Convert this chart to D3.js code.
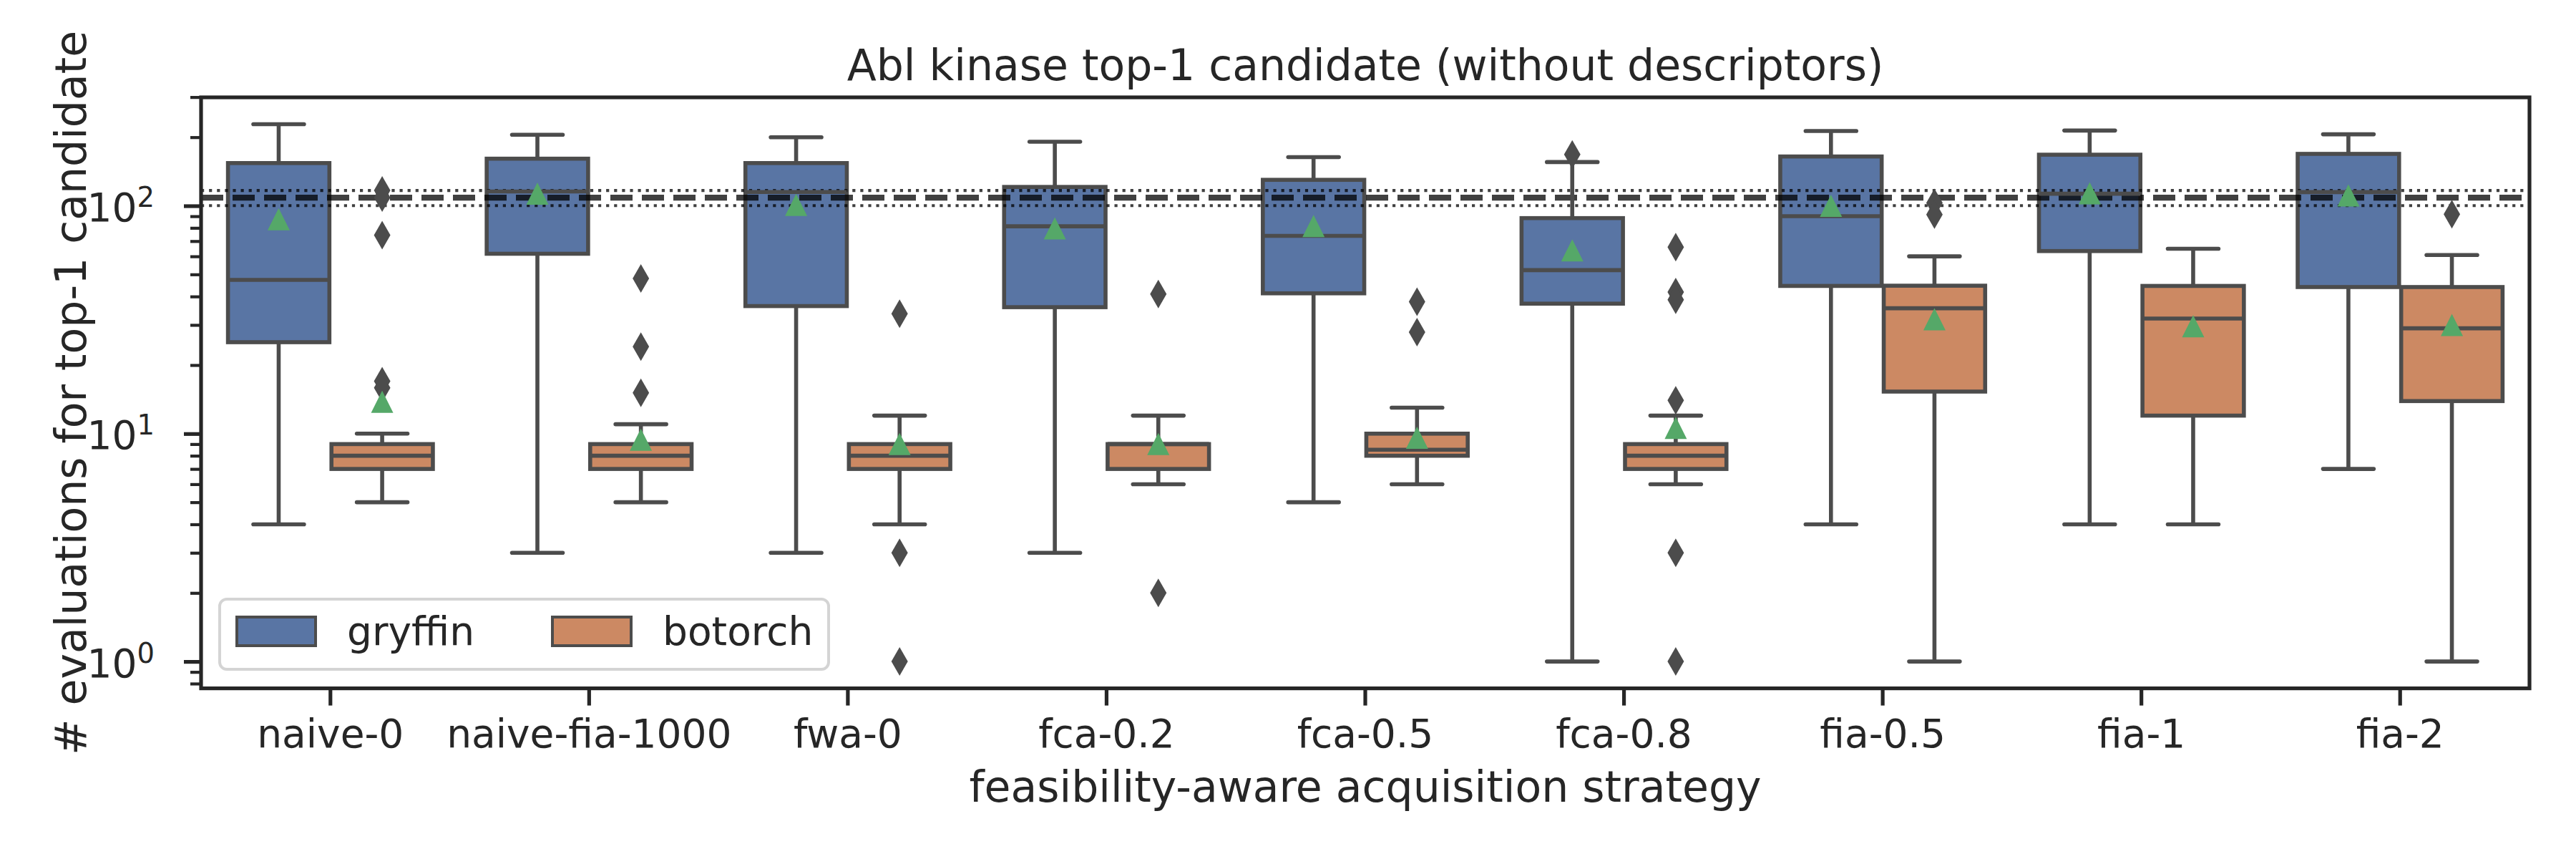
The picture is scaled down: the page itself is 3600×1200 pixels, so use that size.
<!DOCTYPE html>
<html>
<head>
<script src="https://cdn.jsdelivr.net/npm/d3@7"></script>
<style>
    body { margin: 0; background: #fff; }
    text { font-family: "DejaVu Sans", sans-serif; fill: #262626; }
</style>
</head>
<body>
<svg width="3600" height="1200"></svg>
<script>
    // Categories and hue groups
    const categories = ["naive-0", "naive-fia-1000", "fwa-0", "fca-0.2", "fca-0.5", "fca-0.8", "fia-0.5", "fia-1", "fia-2"];
    const hues = ["gryffin", "botorch"];

    // gryffin box stats (lower whisker, q1, median, q3, upper whisker, mean, fliers)
    const gryffinLow    = [4, 3, 3, 3, 5, 1, 4, 4, 7];
    const gryffinQ1     = [25.2, 61.6, 36.3, 35.9, 41.3, 37.2, 44.5, 63.3, 44];
    const gryffinMedian = [47.3, 115.6, 115, 81.3, 73.8, 52.2, 90, 113, 114.8];
    const gryffinQ3     = [154, 161, 154, 121, 130, 88.3, 164.6, 167.6, 169];
    const gryffinHigh   = [228, 205, 200, 191, 163.6, 155.6, 213, 214, 206];
    const gryffinMean   = [87.3, 113, 101, 79.6, 81.5, 63.7, 100, 113.5, 111];
    const gryffinFliers = [[], [], [], [], [], [168], [], [], []];

    // botorch box stats
    const botorchLow    = [5, 5, 4, 6, 6, 6, 1, 4, 1];
    const botorchQ1     = [7, 7, 7, 7, 8, 7, 15.3, 12, 13.9];
    const botorchMedian = [8, 8, 8, 9, 8.5, 8, 35.5, 32, 29];
    const botorchQ3     = [9, 9, 9, 9, 10, 9, 44.6, 44.5, 44];
    const botorchHigh   = [10, 11, 12, 12, 13, 12, 60, 64.8, 60.8];
    const botorchMean   = [13.8, 9.4, 9.0, 9.0, 9.6, 10.6, 31.8, 29.6, 30];
    const botorchFliers = [
        [116.8, 108.6, 74.3, 17, 15.9],
        [48, 24.1, 15.1],
        [33.6, 3, 1],
        [41, 2],
        [37.9, 27.9],
        [65.9, 41.8, 38.7, 14, 3, 1],
        [102.9, 91.5],
        [],
        [91.8]
    ];

    // Reference lines (mean and spread)
    const refMean = 108.5;
    const refBand = [100.2, 116.7];

    // Axis ticks
    const yMajor = [1, 10, 100];
    const yMinor = [0.8, 0.9, 2, 3, 4, 5, 6, 7, 8, 9, 20, 30, 40, 50, 60, 70, 80, 90, 200, 300];

    const colors = {gryffin: "#5975a4", botorch: "#cc8963"};
    const lineColor = "#4c4c4c";

    // Build box records
    const boxes = [];
    categories.forEach(function(c, i) {
        boxes.push({cat: c, hue: "gryffin", low: gryffinLow[i], q1: gryffinQ1[i], med: gryffinMedian[i],
            q3: gryffinQ3[i], high: gryffinHigh[i], mean: gryffinMean[i], fliers: gryffinFliers[i]});
        boxes.push({cat: c, hue: "botorch", low: botorchLow[i], q1: botorchQ1[i], med: botorchMedian[i],
            q3: botorchQ3[i], high: botorchHigh[i], mean: botorchMean[i], fliers: botorchFliers[i]});
    });

    // Plot area
    const plotLeft = 281, plotRight = 3535, plotTop = 136, plotBottom = 961.6;

    const x = d3.scaleBand().domain(categories).range([plotLeft, plotRight]);
    const xHue = d3.scaleBand().domain(hues).range([-0.4 * x.bandwidth(), 0.4 * x.bandwidth()]);
    const y = d3.scaleLog().domain([0.7625, 299.2]).range([plotBottom, plotTop]);

    const boxW = xHue.bandwidth() * 0.98;
    const cx = d => x(d.cat) + x.bandwidth() / 2 + xHue(d.hue) + xHue.bandwidth() / 2;

    const svg = d3.select("svg");

    svg.append("defs").append("clipPath").attr("id", "plot-clip")
        .append("rect")
        .attr("x", plotLeft).attr("y", plotTop)
        .attr("width", plotRight - plotLeft).attr("height", plotBottom - plotTop);

    // Boxes
    svg.append("g").selectAll("rect")
        .data(boxes)
        .enter().append("rect")
        .attr("x", d => cx(d) - boxW / 2)
        .attr("y", d => y(d.q3))
        .attr("width", boxW)
        .attr("height", d => y(d.q1) - y(d.q3))
        .attr("fill", d => colors[d.hue])
        .attr("stroke", lineColor)
        .attr("stroke-width", 5.6);

    // Reference lines
    const refG = svg.append("g").attr("clip-path", "url(#plot-clip)");
    refG.append("line")
        .attr("x1", plotLeft).attr("x2", plotRight)
        .attr("y1", y(refMean)).attr("y2", y(refMean))
        .attr("stroke", "#000").attr("stroke-opacity", 0.75)
        .attr("stroke-width", 8.3)
        .attr("stroke-dasharray", "31,13");
    refG.selectAll(".band")
        .data(refBand)
        .enter().append("line")
        .attr("x1", plotLeft).attr("x2", plotRight)
        .attr("y1", d => y(d)).attr("y2", d => y(d))
        .attr("stroke", "#000").attr("stroke-opacity", 0.75)
        .attr("stroke-width", 4.2)
        .attr("stroke-dasharray", "4.2,6.9");

    const marks = svg.append("g");

    // Whiskers
    marks.selectAll(".wlow")
        .data(boxes)
        .enter().append("line")
        .attr("x1", cx).attr("x2", cx)
        .attr("y1", d => y(d.q1)).attr("y2", d => y(d.low))
        .attr("stroke", lineColor).attr("stroke-width", 5.6);
    marks.selectAll(".whigh")
        .data(boxes)
        .enter().append("line")
        .attr("x1", cx).attr("x2", cx)
        .attr("y1", d => y(d.q3)).attr("y2", d => y(d.high))
        .attr("stroke", lineColor).attr("stroke-width", 5.6);

    // Caps
    ["low", "high"].forEach(function(k) {
        marks.selectAll(".cap-" + k)
            .data(boxes)
            .enter().append("line")
            .attr("x1", d => cx(d) - boxW / 4).attr("x2", d => cx(d) + boxW / 4)
            .attr("y1", d => y(d[k])).attr("y2", d => y(d[k]))
            .attr("stroke", lineColor).attr("stroke-width", 5.6)
            .attr("stroke-linecap", "round");
    });

    // Medians
    marks.selectAll(".median")
        .data(boxes)
        .enter().append("line")
        .attr("x1", d => cx(d) - boxW / 2).attr("x2", d => cx(d) + boxW / 2)
        .attr("y1", d => y(d.med)).attr("y2", d => y(d.med))
        .attr("stroke", lineColor).attr("stroke-width", 5.6);

    // Fliers (thin diamonds)
    const fliers = [];
    boxes.forEach(b => b.fliers.forEach(v => fliers.push({b: b, v: v})));
    marks.selectAll(".flier")
        .data(fliers)
        .enter().append("path")
        .attr("transform", d => "translate(" + cx(d.b) + "," + y(d.v) + ")")
        .attr("d", "M0,-20L11.5,0L0,20L-11.5,0Z")
        .attr("fill", lineColor);

    // Means (green triangles)
    marks.selectAll(".mean")
        .data(boxes)
        .enter().append("path")
        .attr("transform", d => "translate(" + cx(d) + "," + y(d.mean) + ")")
        .attr("d", "M0,-15.5L15.5,15.5L-15.5,15.5Z")
        .attr("fill", "#55a868");

    // Y axis: minor then major ticks
    const yMinorAxis = svg.append("g")
        .attr("transform", "translate(" + plotLeft + ",0)")
        .call(d3.axisLeft(y).tickValues(yMinor).tickSize(15).tickFormat(""));
    yMinorAxis.selectAll("line").attr("stroke", "#262626").attr("stroke-width", 4.2);
    yMinorAxis.select(".domain").remove();

    const yMajorAxis = svg.append("g")
        .attr("transform", "translate(" + plotLeft + ",0)")
        .call(d3.axisLeft(y).tickValues(yMajor).tickSize(24).tickPadding(41));
    yMajorAxis.selectAll("line").attr("stroke", "#262626").attr("stroke-width", 5.2);
    yMajorAxis.select(".domain").remove();
    yMajorAxis.selectAll("text")
        .attr("font-size", 55)
        .attr("dy", 21)
        .text("10")
        .each(function(d) {
            d3.select(this).append("tspan")
                .attr("font-size", 38.5)
                .attr("dy", -20)
                .text(Math.round(Math.log10(d)));
        });

    // X axis
    const xAxis = svg.append("g")
        .attr("transform", "translate(0," + plotBottom + ")")
        .call(d3.axisBottom(x).tickSize(24));
    xAxis.selectAll("line").attr("stroke", "#262626").attr("stroke-width", 5.2);
    xAxis.select(".domain").remove();
    xAxis.selectAll("text")
        .attr("font-size", 55)
        .attr("y", 82.4)
        .attr("dy", 0);

    // Spines
    svg.append("rect")
        .attr("x", plotLeft).attr("y", plotTop)
        .attr("width", plotRight - plotLeft).attr("height", plotBottom - plotTop)
        .attr("fill", "none")
        .attr("stroke", "#262626")
        .attr("stroke-width", 5.2);

    // Titles
    svg.append("text")
        .attr("x", (plotLeft + plotRight) / 2).attr("y", 112)
        .attr("text-anchor", "middle")
        .attr("font-size", 60)
        .text("Abl kinase top-1 candidate (without descriptors)");

    svg.append("text")
        .attr("x", (plotLeft + plotRight) / 2).attr("y", 1120)
        .attr("text-anchor", "middle")
        .attr("font-size", 60)
        .text("feasibility-aware acquisition strategy");

    svg.append("text")
        .attr("transform", "translate(120," + (plotTop + plotBottom) / 2 + ") rotate(-90)")
        .attr("text-anchor", "middle")
        .attr("font-size", 60)
        .text("# evaluations for top-1 candidate");

    // Legend
    const legend = svg.append("g");
    legend.append("rect")
        .attr("x", 307).attr("y", 837)
        .attr("width", 851).attr("height", 98)
        .attr("rx", 10)
        .attr("fill", "#fff").attr("fill-opacity", 0.8)
        .attr("stroke", "#d4d4d4").attr("stroke-width", 4);

    const legendItems = legend.selectAll(".legend")
        .data(hues)
        .enter().append("g")
        .attr("transform", (d, i) => "translate(" + (331 + i * 441) + ",0)");
    legendItems.append("rect")
        .attr("x", 0).attr("y", 862)
        .attr("width", 110).attr("height", 40)
        .attr("fill", d => colors[d])
        .attr("stroke", lineColor).attr("stroke-width", 4);
    legendItems.append("text")
        .attr("x", 154).attr("y", 901)
        .attr("font-size", 55)
        .text(d => d);
</script>
</body>
</html>
